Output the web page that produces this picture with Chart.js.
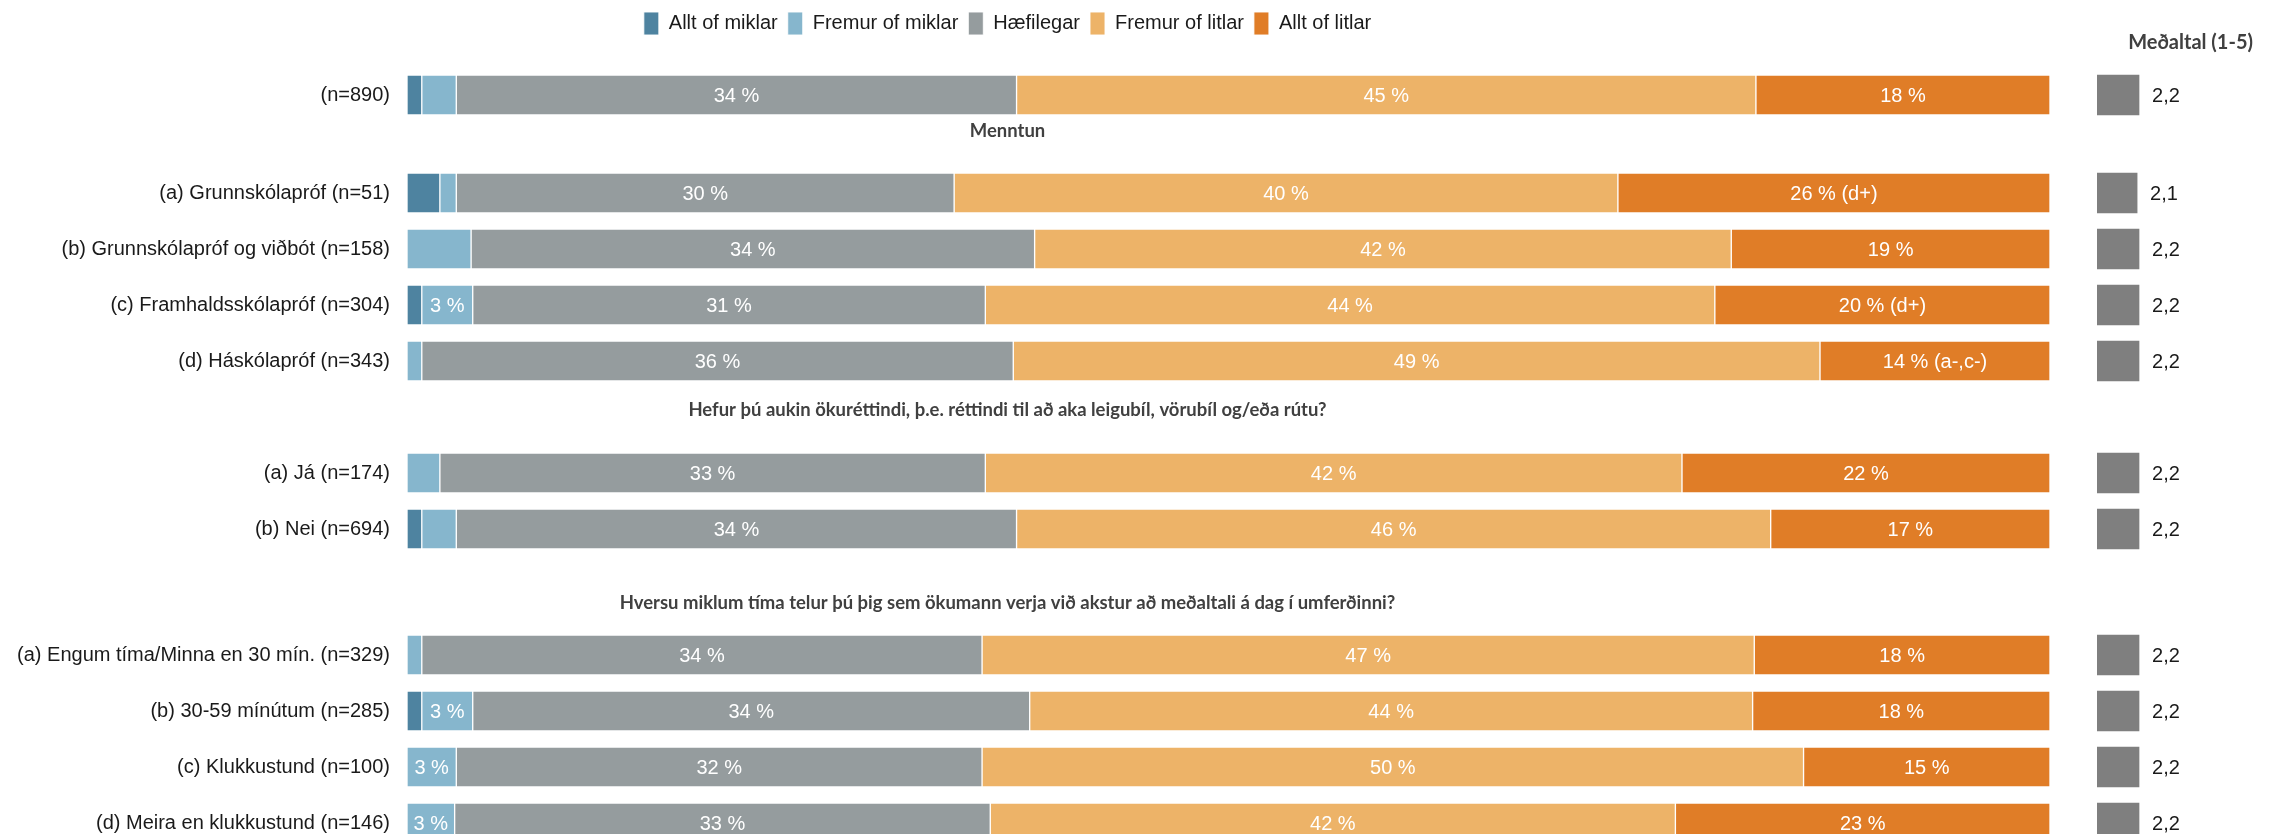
<!DOCTYPE html>
<html lang="is">
<head>
  <meta charset="UTF-8" />
  <title>Tími í umferðinni – mat ökumanna</title>
  <script src="https://cdn.jsdelivr.net/npm/chart.js"></script>
  <style>
    body {
      margin: 0;
      background: #fff;
      width: 2269px;
      height: 834px;
      overflow: hidden;
      position: relative;
    }
    #main { position: absolute; left: -35px; top: 0; }
    #mean { position: absolute; left: 2097px; top: 0; }
  </style>
</head>
<body>
  <canvas id="main" width="2085" height="834"></canvas>
  <canvas id="mean" width="172" height="834"></canvas>

  <script>
    // Raðir
    const categories = [
      '(n=890)',
      '(a) Grunnskólapróf (n=51)',
      '(b) Grunnskólapróf og viðbót (n=158)',
      '(c) Framhaldsskólapróf (n=304)',
      '(d) Háskólapróf (n=343)',
      '(a) Já (n=174)',
      '(b) Nei (n=694)',
      '(a) Engum tíma/Minna en 30 mín. (n=329)',
      '(b) 30-59 mínútum (n=285)',
      '(c) Klukkustund (n=100)',
      '(d) Meira en klukkustund (n=146)'
    ];

    // Hlutföll (%)
    const alltMiklar   = [0.9, 2.0, 0,    0.9, 0,    0,    0.9, 0,    0.9, 0,    0];
    const fremurMiklar = [2.1, 1.0, 3.9,  3.1, 0.9,  2.0,  2.1, 0.9,  3.1, 3.0,  2.9];
    const haefilegar   = [34.1, 30.3, 34.3, 31.2, 36.0, 33.2, 34.1, 34.1, 33.9, 32.0, 32.6];
    const fremurLitlar = [45.0, 40.4, 42.4, 44.4, 49.1, 42.4, 45.9, 47.0, 44.0, 50.0, 41.7];
    const alltLitlar   = [17.9, 26.3, 19.4, 20.4, 14.0, 22.4, 17.0, 18.0, 18.1, 15.0, 22.8];
    const alltLitlarNote = ['', ' (d+)', '', ' (d+)', ' (a-,c-)', '', '', '', '', '', ''];

    // Meðaltal (1-5)
    const medaltal = [2.2, 2.1, 2.2, 2.2, 2.2, 2.2, 2.2, 2.2, 2.2, 2.2, 2.2];

    const groupTitles = [
      'Menntun',
      'Hefur þú aukin ökuréttindi, þ.e. réttindi til að aka leigubíl, vörubíl og/eða rútu?',
      'Hversu miklum tíma telur þú þig sem ökumann verja við akstur að meðaltali á dag í umferðinni?'
    ];

    // Uppsetning: hvar hver röð lendir á flokkaásnum (auðir reitir á milli hópa)
    const slotCount = 53;
    const rowSlot = [0, 7, 11, 15, 19, 27, 31, 40, 44, 48, 52];
    const titleSlot = [2.57, 22.5, 36.3];
    const hiddenLabels = [[1, 2]]; // [gagnaröð, röð] – merki ekki sýnt
    const longestTitleWidth = 776;  // breidd lengstu fyrirsagnar á myndinni

    const FONT = '"Liberation Sans", Arial, sans-serif';
    const BOLD = 'Lato, "Open Sans", sans-serif';

    const slotLabels = Array(slotCount).fill('');
    rowSlot.forEach((s, i) => { slotLabels[s] = categories[i]; });

    function spread(values) {
      const out = Array(slotCount).fill(null);
      rowSlot.forEach((s, i) => { out[s] = values[i]; });
      return out;
    }

    const series = [
      { label: 'Allt of miklar',   data: alltMiklar,   color: '#4E83A0' },
      { label: 'Fremur of miklar', data: fremurMiklar, color: '#86B6CD' },
      { label: 'Hæfilegar',        data: haefilegar,   color: '#959C9E' },
      { label: 'Fremur of litlar', data: fremurLitlar, color: '#EDB368' },
      { label: 'Allt of litlar',   data: alltLitlar,   color: '#E07D27' }
    ];

    // enginn auka-bil fyrir fyrsta/síðasta merki á lóðrétta ásnum
    function noEdgePadding(s) {
      s.paddingTop = 0;
      s.paddingBottom = 0;
    }

    const segmentLabels = {
      id: 'segmentLabels',
      afterDatasetsDraw(chart) {
        const ctx = chart.ctx;
        ctx.save();
        ctx.font = '20px ' + FONT;
        ctx.fillStyle = '#fff';
        ctx.textAlign = 'center';
        ctx.textBaseline = 'middle';
        chart.data.datasets.forEach((ds, di) => {
          chart.getDatasetMeta(di).data.forEach((bar, si) => {
            const v = ds.data[si];
            if (v == null || v < 2.5) return;
            const row = rowSlot.indexOf(si);
            if (hiddenLabels.some(h => h[0] === di && h[1] === row)) return;
            let text = Math.round(v) + ' %';
            if (di === 4) text += alltLitlarNote[row];
            ctx.fillText(text, (bar.x + bar.base) / 2, bar.y + 1);
          });
        });

        // hópafyrirsagnir, miðjaðar undir skýringunum
        const boxes = chart.legend.legendHitBoxes;
        const last = boxes[boxes.length - 1];
        const cx = (boxes[0].left + last.left + last.width) / 2;
        ctx.font = 'bold 20px ' + BOLD;
        const size = 20 * longestTitleWidth / ctx.measureText(groupTitles[2]).width;
        ctx.font = 'bold ' + size.toFixed(2) + 'px ' + BOLD;
        ctx.fillStyle = '#404040';
        const y = chart.scales.y;
        groupTitles.forEach((t, i) => {
          ctx.fillText(t, cx, y.getPixelForValue(titleSlot[i]));
        });
        ctx.restore();
      }
    };

    new Chart(document.getElementById('main'), {
      type: 'bar',
      data: {
        labels: slotLabels,
        datasets: series.map(s => ({
          label: s.label,
          data: spread(s.data),
          backgroundColor: s.color,
          borderColor: 'rgba(255,255,255,0.9)',
          borderWidth: 1,
          borderSkipped: false,
          barThickness: 40,
          clip: false
        }))
      },
      options: {
        indexAxis: 'y',
        responsive: false,
        animation: false,
        layout: { padding: { top: 2, left: 0, right: 0, bottom: 4 } },
        scales: {
          x: {
            position: 'top',
            stacked: true,
            min: 0,
            max: 100,
            grid: { display: false, drawTicks: false },
            border: { display: false },
            ticks: { display: false },
            afterFit: s => { s.height = 43; }
          },
          y: {
            stacked: true,
            grid: { display: false, drawTicks: false },
            border: { display: false },
            ticks: {
              autoSkip: false,
              padding: 17,
              color: '#1a1a1a',
              font: { size: 20, family: FONT }
            },
            afterFit: s => { s.width = 442; noEdgePadding(s); }
          }
        },
        plugins: {
          legend: {
            position: 'top',
            labels: {
              boxWidth: 15,
              boxHeight: 23,
              padding: 10,
              color: '#1a1a1a',
              font: { size: 20, family: FONT }
            }
          },
          tooltip: { enabled: false }
        }
      },
      plugins: [segmentLabels]
    });

    // Meðaltalsdálkur til hægri
    const meanLabels = {
      id: 'meanLabels',
      afterDatasetsDraw(chart) {
        const ctx = chart.ctx;
        ctx.save();
        ctx.font = '20px ' + FONT;
        ctx.fillStyle = '#1a1a1a';
        ctx.textAlign = 'left';
        ctx.textBaseline = 'middle';
        const ds = chart.data.datasets[0];
        chart.getDatasetMeta(0).data.forEach((bar, si) => {
          const v = ds.data[si];
          if (v == null) return;
          ctx.fillText(v.toFixed(1).replace('.', ','), bar.x + 13, bar.y + 1);
        });
        ctx.font = 'bold 20px ' + BOLD;
        ctx.fillStyle = '#404040';
        ctx.textAlign = 'right';
        ctx.fillText('Meðaltal (1-5)', chart.width - 16, 43);
        ctx.restore();
      }
    };

    new Chart(document.getElementById('mean'), {
      type: 'bar',
      data: {
        labels: slotLabels,
        datasets: [{
          label: 'Meðaltal',
          data: spread(medaltal),
          backgroundColor: '#7F7F7F',
          barThickness: 40,
          clip: false
        }]
      },
      options: {
        indexAxis: 'y',
        responsive: false,
        animation: false,
        layout: { padding: { top: 0, left: 0, right: 76.5, bottom: 4 } },
        scales: {
          x: {
            position: 'top',
            min: 0,
            max: 5,
            grid: { display: false, drawTicks: false },
            border: { display: false },
            ticks: { display: false },
            afterFit: s => { s.height = 88; }
          },
          y: { display: false }
        },
        plugins: {
          legend: { display: false },
          tooltip: { enabled: false }
        }
      },
      plugins: [meanLabels]
    });
  </script>
</body>
</html>
